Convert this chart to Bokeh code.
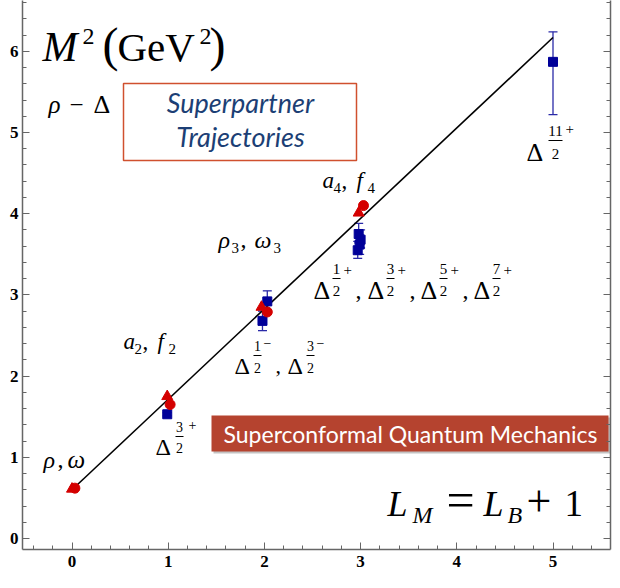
from bokeh.plotting import figure
from bokeh.models import Range1d, LinearAxis, Whisker, TeeHead, ColumnDataSource, SingleIntervalTicker
from bokeh.core.properties import value
from bokeh.embed import file_html
from bokeh.resources import INLINE

# ---------------- data ----------------
traj_L = [0, 5]
traj_M2 = [0.60, 6.17]

meson_circ_L = [0.03, 1.02, 2.03, 3.03]
meson_circ_M2 = [0.62, 1.65, 2.79, 4.10]
meson_tri_L = [0.00, 0.99, 1.97, 2.98]
meson_tri_M2 = [0.61, 1.75, 2.85, 4.01]

baryon_L = [0.99, 1.98, 2.03, 2.97, 2.99, 3.00, 2.98, 5.00]
baryon_M2 = [1.53, 2.68, 2.92, 3.55, 3.62, 3.68, 3.75, 5.87]
baryon_lo = [1.51, 2.56, 2.80, 3.45, 3.50, 3.58, 3.64, 5.22]
baryon_hi = [1.55, 2.80, 3.05, 3.66, 3.74, 3.80, 3.88, 6.24]

tick_labels = ["0", "1", "2", "3", "4", "5", "6"]

# ---------------- geometry helpers (annotation placement) ----------------
X0, SX, Y0, SY = 71.5, 96.2, 538.0, 81.2
def px2x(px):
    return (px - X0) / SX
def py2y(py):
    return (Y0 - py) / SY

p = figure(width=612, height=580,
           x_range=Range1d(px2x(22), px2x(610)),
           y_range=Range1d(py2y(549), py2y(0)),
           output_backend="svg", toolbar_location=None,
           min_border_left=22, min_border_right=2, min_border_top=0, min_border_bottom=31)
p.outline_line_color = None
p.grid.visible = False
p.background_fill_color = "white"
p.border_fill_color = "white"

right = LinearAxis()
p.add_layout(right, "right")

AX = "#666666"
for ax in [p.xaxis[0], p.yaxis[0], right]:
    ax.ticker = SingleIntervalTicker(interval=1, num_minor_ticks=5)
    ax.axis_line_color = AX
    ax.axis_line_width = 1.5
    ax.major_tick_line_color = AX
    ax.minor_tick_line_color = AX
    ax.major_tick_in = 7
    ax.major_tick_out = 0
    ax.minor_tick_in = 4
    ax.minor_tick_out = 0
    ax.major_label_text_font = "Liberation Serif"
    ax.major_label_text_font_style = "bold"
    ax.major_label_text_font_size = "17px"
    ax.major_label_text_color = "black"
p.xaxis[0].major_label_standoff = 6
p.yaxis[0].major_label_standoff = 4
right.major_label_overrides = {i: "" for i in range(len(tick_labels))}
right.major_label_standoff = 0

# trajectory line
p.line(traj_L, traj_M2, line_color="black", line_width=1.6)

# baryons
bsrc = ColumnDataSource(dict(x=baryon_L, y=baryon_M2, lo=baryon_lo, hi=baryon_hi))
EB = "#2a2aa8"
w = Whisker(source=bsrc, base="x", upper="hi", lower="lo", line_color=EB, line_width=1.3,
            upper_head=TeeHead(size=9, line_color=EB, line_width=1.3),
            lower_head=TeeHead(size=9, line_color=EB, line_width=1.3))
p.add_layout(w)
p.scatter("x", "y", source=bsrc, marker="square", size=9, fill_color="#000099", line_color="#000099")

# mesons
RED = "#d40000"
p.scatter(meson_tri_L, meson_tri_M2, marker="triangle", size=11, fill_color=RED, line_color=RED)
p.scatter(meson_circ_L, meson_circ_M2, marker="circle", size=10, fill_color=RED, line_color=RED)

# ---------------- text helpers ----------------
K = 0.32  # em-middle above baseline
def txt(s, px, base, size, style="normal", font="Liberation Serif", color="black",
        align="left"):
    p.text(x=[px2x(px)], y=[py2y(base - K * size)], text=[s], text_font=value(font),
           text_font_size=f"{size}px", text_font_style=style, text_color=color,
           text_align=align, text_baseline="middle")

def bar(cx, hw, py):
    p.segment(x0=[px2x(cx - hw)], y0=[py2y(py)], x1=[px2x(cx + hw)], y1=[py2y(py)],
              line_color="black", line_width=1)

def delta(L, B, size, fsize, num, sign, fx, nd, dd, bd, hw, sx, sd):
    txt("Δ", L, B, size)
    txt(num, L + fx, B + nd, fsize, align="center")
    bar(L + fx, hw, B + bd)
    txt("2", L + fx, B + dd, fsize, align="center")
    txt(sign, L + sx, B + sd, fsize)

# title
txt("M", 42, 60, 42, "italic")
txt("2", 82, 44, 24)
txt("(", 102, 59, 48)
txt("GeV", 117, 60, 41)
txt("2", 199, 44, 24)
txt(")", 209, 59, 48)

# rho - Delta
txt("ρ", 48, 112, 25, "italic")
txt("−", 69, 112, 25)
txt("Δ", 93, 112, 26)

# superpartner box
p.quad(left=[px2x(123)], right=[px2x(356)], top=[py2y(83)], bottom=[py2y(160)],
       fill_color="white", line_color="#d0502e", line_width=1.5)
txt("Superpartner", 240, 111, 27, "italic", font="Lato", color="#1c3f75", align="center")
txt("Trajectories", 240, 145, 27, "italic", font="Lato", color="#1c3f75", align="center")

# meson labels
txt("a", 322, 187, 23, "italic"); txt("4", 333, 192, 15); txt(",", 341, 187, 23)
txt("f", 356, 187, 23, "italic"); txt("4", 367, 192, 15)

txt("ρ", 218, 247, 24, "italic"); txt("3", 231, 252, 15); txt(",", 240, 247, 24)
txt("ω", 254, 247, 24, "italic"); txt("3", 273, 252, 15)

txt("a", 123, 348, 23, "italic"); txt("2", 134, 353, 15); txt(",", 142, 348, 23)
txt("f", 157, 348, 23, "italic"); txt("2", 168, 353, 15)

txt("ρ", 43, 467, 24, "italic"); txt(",", 57, 467, 24); txt("ω", 67, 467, 25, "italic")

# delta labels
delta(155, 454, 24, 14, "3", "+", 24, -23, -2, -18, 4, 33, -25)
delta(234, 373, 24, 14, "1", "−", 23, -23, -1, -18, 4, 29, -26)
txt(",", 275, 373, 22)
delta(287, 373, 24, 14, "3", "−", 23, -23, -1, -18, 4, 29, -26)
for i, (L, n) in enumerate([(313, "1"), (367, "3"), (420, "5"), (473, "7")]):
    delta(L, 298, 26, 15, n, "+", 23, -25, -3, -20, 4, 30, -24)
    if i < 3:
        txt(",", L + 42, 298, 24)
delta(526, 160, 26, 15, "11", "+", 29, -25, -2, -20, 7, 39, -27)

# banner
p.quad(left=[px2x(213)], right=[px2x(610)], top=[py2y(417)], bottom=[py2y(453)],
       fill_color="#888888", fill_alpha=0.5, line_color=None)
p.quad(left=[px2x(211)], right=[px2x(608)], top=[py2y(415)], bottom=[py2y(451)],
       fill_color="#b5432f", line_color=None)
p.text(x=[px2x(410)], y=[py2y(433)], text=["Superconformal Quantum Mechanics"],
       text_font=value("Lato"), text_font_size="23px", text_color="white",
       text_align="center", text_baseline="middle")

# L_M = L_B + 1
txt("L", 387, 515, 36, "italic"); txt("M", 412, 522, 24, "italic")
txt("=", 446, 515, 50)
txt("L", 483, 515, 36, "italic"); txt("B", 507, 522, 24, "italic")
txt("+", 526, 515, 44)
txt("1", 564, 515, 37)

open("out.html", "w").write(file_html(p, INLINE))
